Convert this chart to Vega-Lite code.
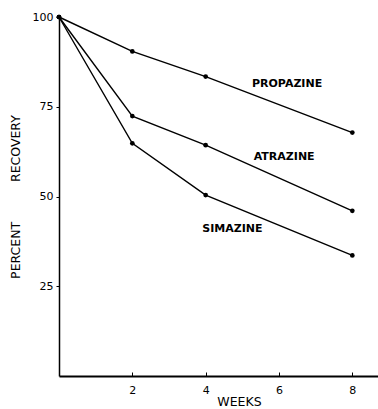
{
  "$schema": "https://vega.github.io/schema/vega-lite/v6.json",
  "width": 319,
  "height": 359,
  "autosize": {"type": "none"},
  "padding": {"left": 59, "top": 17, "right": 0, "bottom": 33},
  "background": "white",
  "config": {
    "view": {"stroke": null},
    "font": "DejaVu Sans",
    "axis": {
      "domainColor": "black",
      "tickColor": "black",
      "labelColor": "black",
      "titleColor": "black",
      "grid": false,
      "labelFont": "DejaVu Sans",
      "titleFont": "DejaVu Sans",
      "labelFontSize": 11,
      "titleFontSize": 12.5,
      "titleFontWeight": "normal"
    }
  },
  "datasets": {
    "series": [
      {"week": 0, "recovery": 100, "herbicide": "PROPAZINE"},
      {"week": 2, "recovery": 90.4, "herbicide": "PROPAZINE"},
      {"week": 4, "recovery": 83.4, "herbicide": "PROPAZINE"},
      {"week": 8, "recovery": 67.8, "herbicide": "PROPAZINE"},
      {"week": 0, "recovery": 100, "herbicide": "ATRAZINE"},
      {"week": 2, "recovery": 72.4, "herbicide": "ATRAZINE"},
      {"week": 4, "recovery": 64.3, "herbicide": "ATRAZINE"},
      {"week": 8, "recovery": 46.0, "herbicide": "ATRAZINE"},
      {"week": 0, "recovery": 100, "herbicide": "SIMAZINE"},
      {"week": 2, "recovery": 64.8, "herbicide": "SIMAZINE"},
      {"week": 4, "recovery": 50.4, "herbicide": "SIMAZINE"},
      {"week": 8, "recovery": 33.6, "herbicide": "SIMAZINE"}
    ],
    "labels": [
      {"week": 6.22, "recovery": 81.3, "herbicide": "PROPAZINE"},
      {"week": 6.14, "recovery": 61.1, "herbicide": "ATRAZINE"},
      {"week": 4.73, "recovery": 40.9, "herbicide": "SIMAZINE"}
    ]
  },
  "layer": [
    {
      "mark": {"type": "rule", "color": "black", "strokeWidth": 1.5},
      "encoding": {"y": {"datum": 100, "type": "quantitative", "scale": {"domain": [0, 100]}}}
    },
    {
      "data": {"name": "series"},
      "mark": {"type": "line", "color": "black", "strokeWidth": 1.4},
      "encoding": {
        "x": {
          "field": "week", "type": "quantitative",
          "scale": {"domain": [0, 8.7], "nice": false, "zero": false},
          "axis": {
            "values": [2, 4, 6, 8],
            "title": "WEEKS",
            "domainWidth": 2,
            "tickSize": -4,
            "tickWidth": 1,
            "labelPadding": 12,
            "titleX": 180,
            "titleY": 29,
            "titleBaseline": "alphabetic",
            "titleAlign": "center"
          }
        },
        "y": {
          "field": "recovery", "type": "quantitative",
          "scale": {"domain": [0, 100], "nice": false},
          "axis": {
            "values": [25, 50, 75, 100],
            "title": "PERCENT\u00a0\u00a0\u00a0\u00a0\u00a0\u00a0\u00a0\u00a0\u00a0\u00a0RECOVERY",
            "domainWidth": 1.5,
            "tickSize": 3,
            "tickWidth": 1,
            "labelPadding": 3,
            "titleX": -44,
            "titleY": 179.5,
            "titleAngle": 270,
            "titleAlign": "center",
            "titleBaseline": "middle"
          }
        },
        "detail": {"field": "herbicide"}
      }
    },
    {
      "data": {"name": "series"},
      "mark": {"type": "point", "filled": true, "color": "black", "size": 22, "opacity": 1},
      "encoding": {
        "x": {"field": "week", "type": "quantitative"},
        "y": {"field": "recovery", "type": "quantitative"}
      }
    },
    {
      "data": {"name": "labels"},
      "mark": {"type": "text", "color": "black", "fontSize": 11, "fontWeight": "bold", "align": "center", "baseline": "middle", "font": "DejaVu Sans"},
      "encoding": {
        "x": {"field": "week", "type": "quantitative"},
        "y": {"field": "recovery", "type": "quantitative"},
        "text": {"field": "herbicide"}
      }
    }
  ]
}
